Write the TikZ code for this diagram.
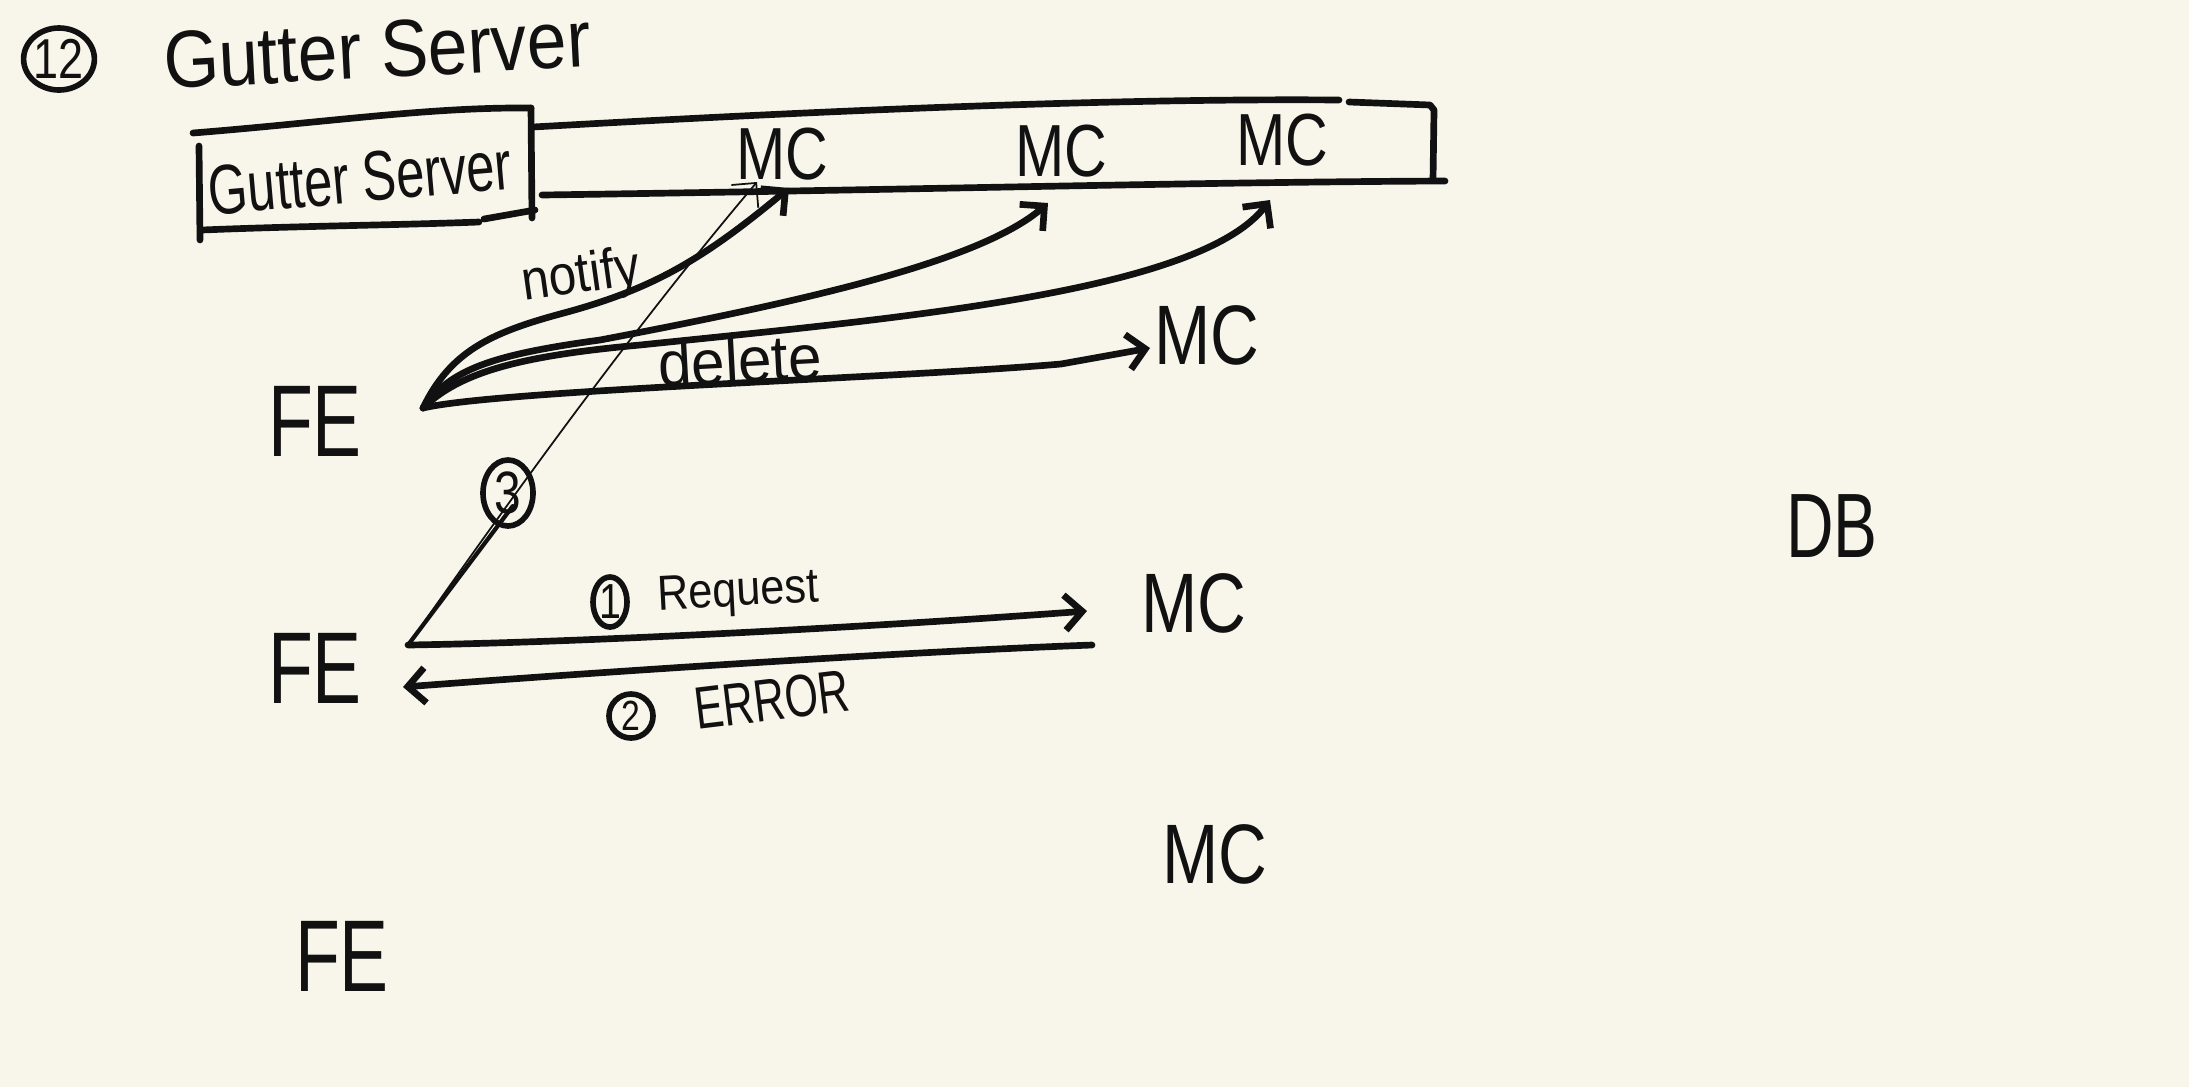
\documentclass[tikz,border=0pt]{standalone}
\usepackage{fontspec}
\setmainfont{Liberation Sans}
\newfontfamily\handA[FakeStretch=0.72]{Liberation Sans}
\newfontfamily\handB[FakeStretch=0.8]{Liberation Sans}
\newfontfamily\handC[FakeStretch=0.88]{Liberation Sans}
\newfontfamily\handD[FakeStretch=0.95]{Liberation Sans}
\usetikzlibrary{arrows.meta,shapes.geometric,calc}
\definecolor{paper}{RGB}{248,246,234}
\definecolor{inkc}{RGB}{17,17,17}
\begin{document}
\begin{tikzpicture}[x=0.01cm,y=-0.01cm,
  ink/.style={draw=inkc,line width=1.9pt,line cap=round,line join=round},
  thinink/.style={draw=inkc,line width=0.5pt,line cap=round},
  arr/.style={-{Straight Barb[length=5pt,width=10pt]}},
  circnum/.style={draw=inkc,ellipse,line width=1.6pt,inner sep=0pt,text=inkc},
  lbl/.style={inner sep=0pt,text=inkc},
  felbl/.style={lbl,font=\handA\fontsize{29}{30}\selectfont},
  mcbig/.style={lbl,font=\handB\fontsize{24}{26}\selectfont},
  mcband/.style={lbl,font=\handB\fontsize{21}{23}\selectfont},
  dblbl/.style={lbl,font=\handA\fontsize{26}{28}\selectfont},
  ttl/.style={lbl,font=\handC\fontsize{23}{25}\selectfont},
  boxlbl/.style={lbl,font=\handA\fontsize{20}{22}\selectfont},
  notifylbl/.style={lbl,font=\handC\fontsize{16}{18}\selectfont},
  deletelbl/.style={lbl,font=\handD\fontsize{18}{20}\selectfont},
  reqlbl/.style={lbl,font=\handC\fontsize{14}{16}\selectfont},
  errlbl/.style={lbl,font=\handA\fontsize{17}{19}\selectfont}
]
\fill[paper] (0,0) rectangle (2189,1087);
\useasboundingbox (0,0) rectangle (2189,1087);

% title
\node[circnum,minimum width=0.66cm,minimum height=0.62cm,font=\handB\fontsize{16}{17}\selectfont] (n12) at (59,59) {12};
\node[ttl,rotate=3] (title) at (377,50) {Gutter Server};

% gutter server box
\node[boxlbl,rotate=5] (gs) at (360,178) {Gutter Server};
\draw[ink] (193,133) .. controls (330,122) and (430,107) .. (531,108);
\draw[ink] (531,108) -- (532,218);
\draw[ink] (199,146) -- (200,240);
\draw[ink] (202,230) .. controls (300,226) and (400,225) .. (479,222);
\draw[ink] (484,219) -- (535,210);

% memcache band
\draw[ink] (533,127) .. controls (800,112) and (1100,98) .. (1339,100);
\draw[ink] (1349,102) -- (1430,105) -- (1434,110) -- (1433,179);
\draw[ink] (542,195) .. controls (900,190) and (1200,182) .. (1445,181);
\node[mcband] (mc1) at (782,154) {MC};
\node[mcband] (mc2) at (1061,151) {MC};
\node[mcband] (mc3) at (1282,140) {MC};

% FE / MC / DB
\node[felbl] (fe1) at (315,421) {FE};
\node[felbl] (fe2) at (315,668) {FE};
\node[felbl] (fe3) at (342,956) {FE};
\node[mcbig] (mcd) at (1207,335) {MC};
\node[mcbig] (mcr) at (1194,603) {MC};
\node[mcbig] (mcx) at (1215,854) {MC};
\node[dblbl] (db) at (1832,526) {DB};

% connector ends
\coordinate (fe1o) at (423,408);
\coordinate (fe2o) at (408,645);
\coordinate (fe2i) at (403,687);
\coordinate (mc1a) at (789,188);
\coordinate (mc1b) at (757,182);
\coordinate (mc2a) at (1048,203);
\coordinate (mc3a) at (1270,200);
\coordinate (mcda) at (1150,348);
\coordinate (mcri) at (1087,611);
\coordinate (mcro) at (1092,645);

% notify / delete fan from upper FE
\draw[ink,arr] (fe1o) .. controls (450,352) and (490,333) .. (560,314) .. controls (650,290) and (700,262) .. (mc1a);
\draw[ink,arr] (fe1o) .. controls (450,370) and (490,355) .. (600,340) .. controls (800,302) and (980,262) .. (mc2a);
\draw[ink,arr] (fe1o) .. controls (460,372) and (520,356) .. (640,345) .. controls (900,318) and (1200,292) .. (mc3a);
\draw[ink,arr] (fe1o) .. controls (500,390) and (900,378) .. (1061,364) -- (mcda);
\node[notifylbl,rotate=8] (lnotify) at (581,278) {notify};
\node[deletelbl,rotate=3] (ldelete) at (740,360) {delete};

% step 3 line
\draw[thinink,arr] (fe2o) .. controls (520,485) and (640,320) .. (mc1b);
\draw[draw=inkc,line width=1.2pt,line cap=round] (fe2o) -- ($(fe2o)!0.3!(mc1b)$);
\node[circnum,minimum width=0.5cm,minimum height=0.66cm,font=\handB\fontsize{17}{18}\selectfont] (n3) at (508,493) {3};

% request / error
\draw[ink,arr] (fe2o) .. controls (600,642) and (900,625) .. (mcri);
\draw[ink,arr] (mcro) .. controls (900,652) and (600,672) .. (fe2i);
\node[circnum,minimum width=0.34cm,minimum height=0.5cm,font=\handB\fontsize{14}{15}\selectfont] (n1) at (610,602) {1};
\node[reqlbl,rotate=3] (lreq) at (738,594) {Request};
\node[circnum,minimum width=0.44cm,minimum height=0.44cm,font=\handB\fontsize{12}{13}\selectfont] (n2) at (631,716) {2};
\node[errlbl,rotate=7] (lerr) at (772,700) {ERROR};
\end{tikzpicture}
\end{document}
